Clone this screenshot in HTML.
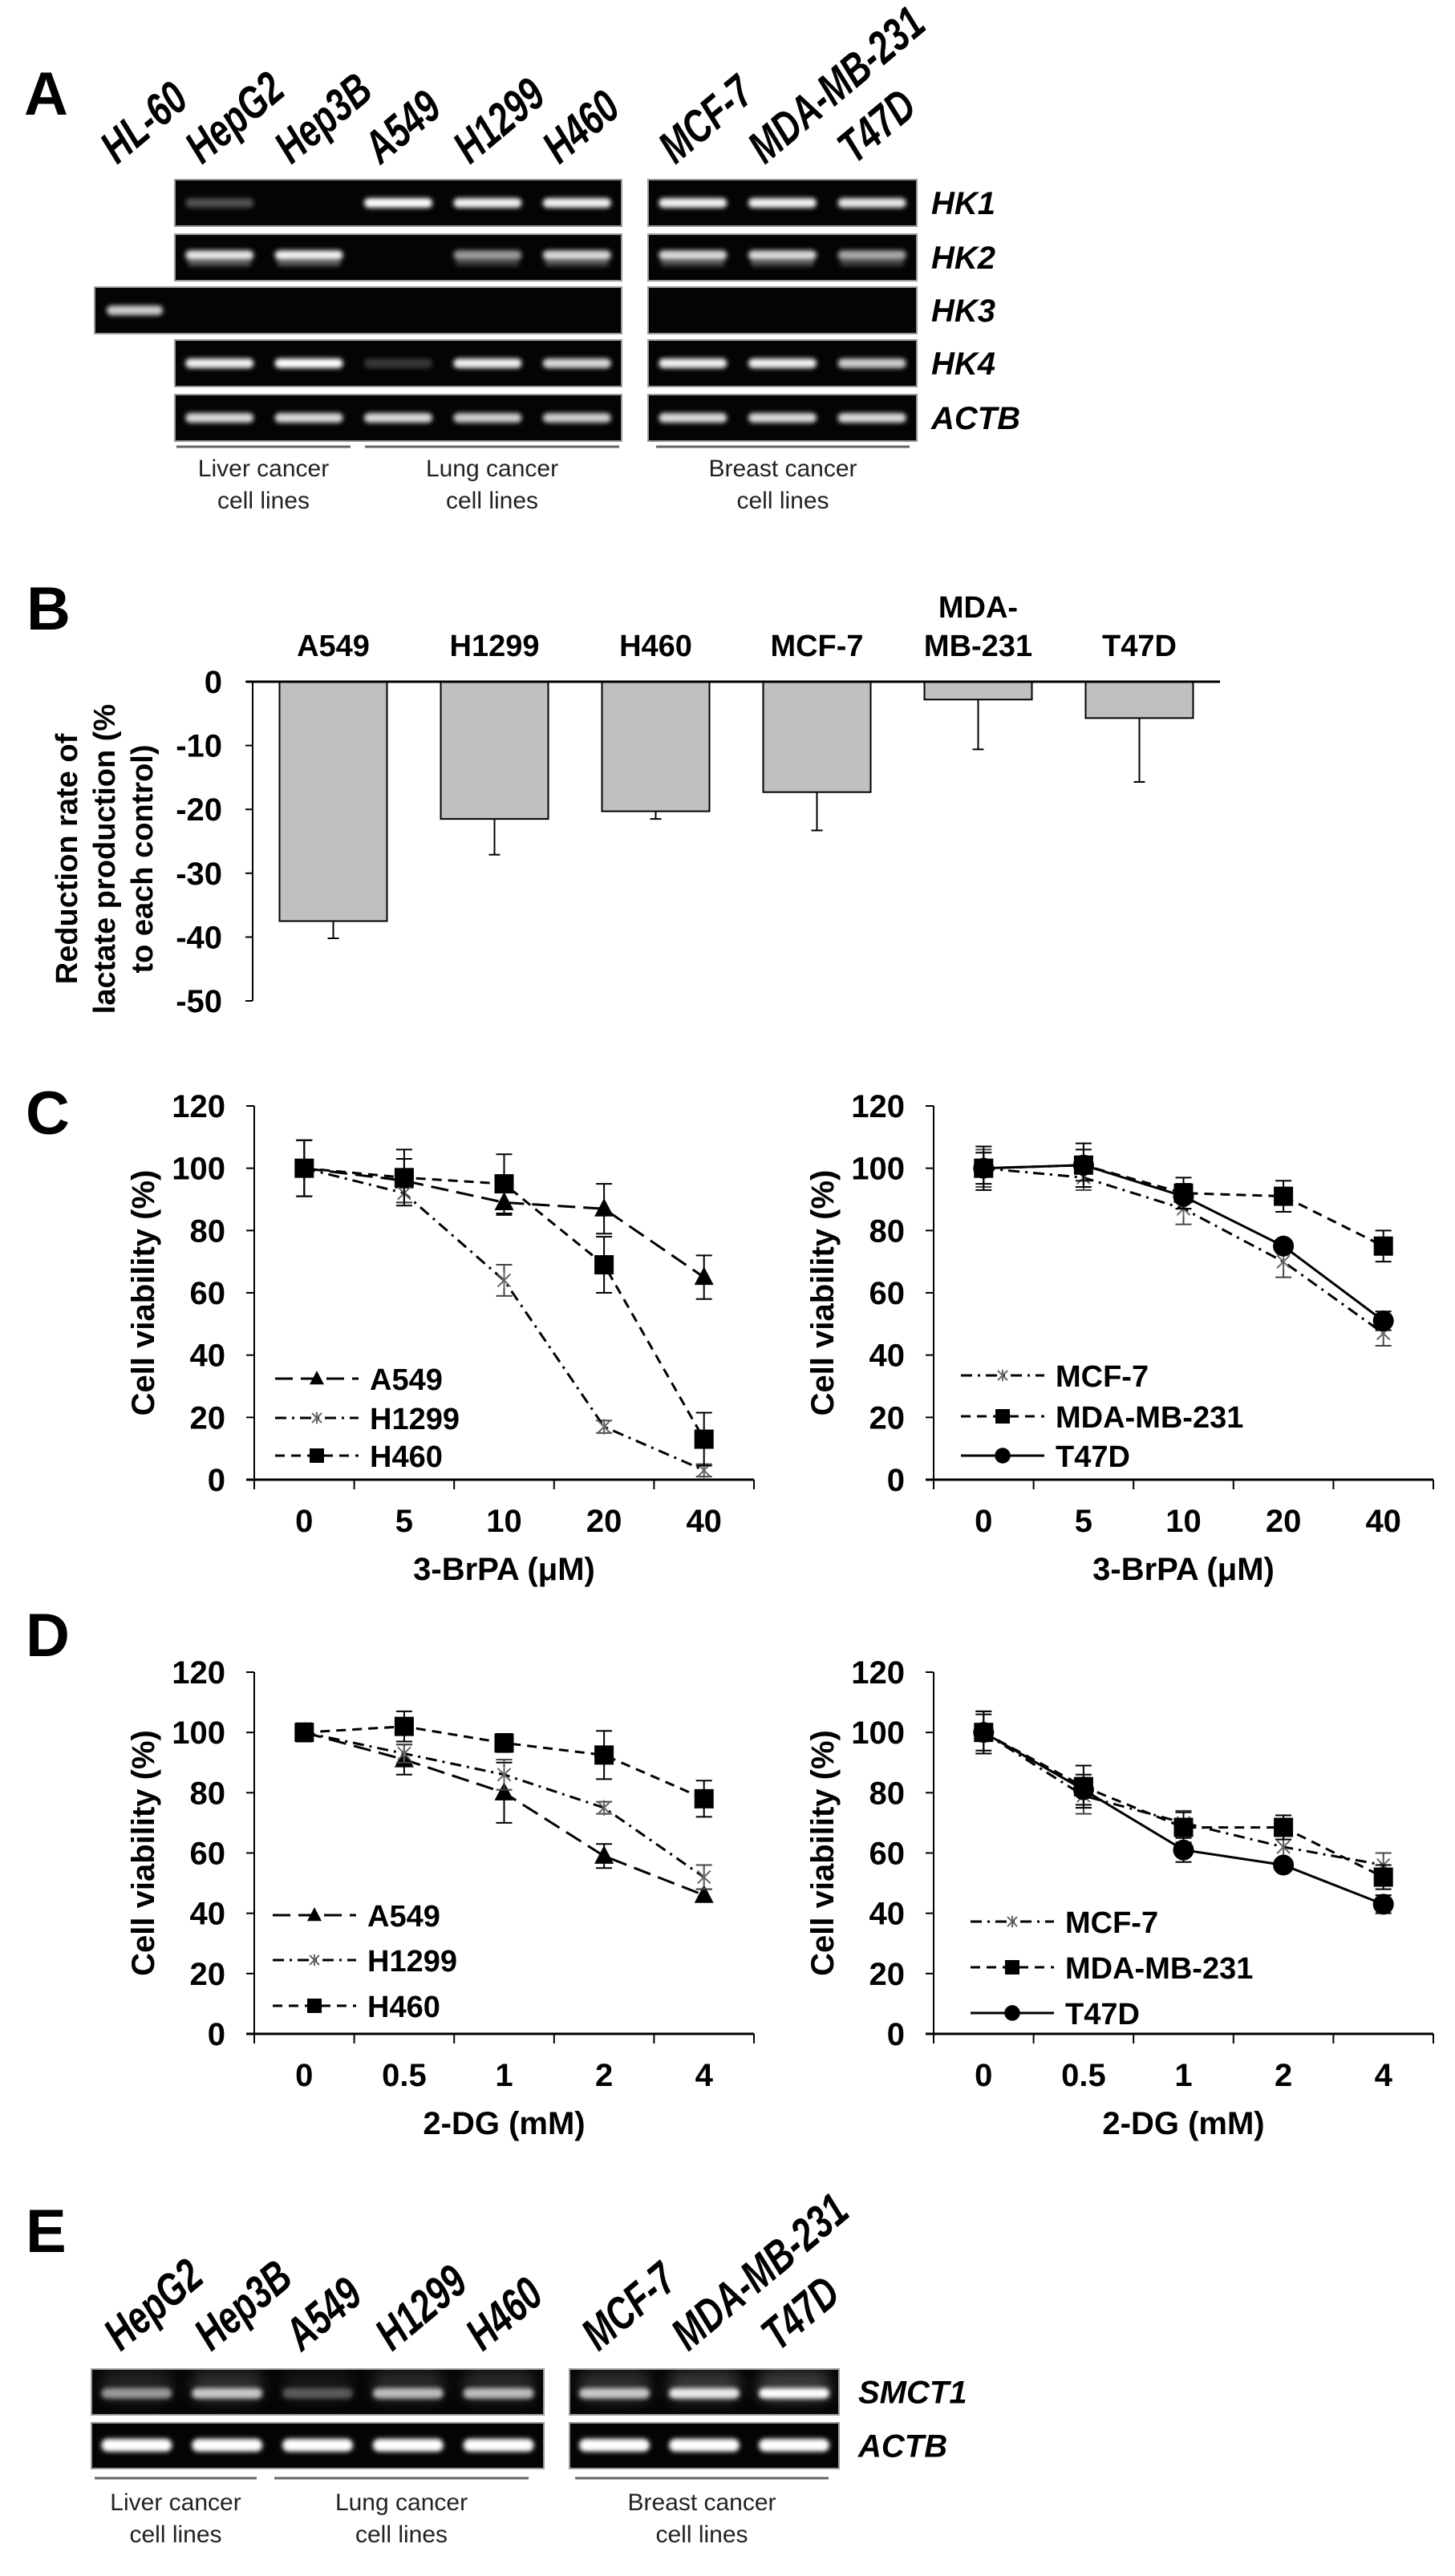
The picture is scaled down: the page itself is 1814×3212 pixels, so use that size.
<!DOCTYPE html>
<html><head><meta charset="utf-8"><title>Figure</title>
<style>
html,body{margin:0;padding:0;background:#fff;}
svg{display:block;font-family:"Liberation Sans",Arial,sans-serif;}
</style></head>
<body>
<svg id="fig" width="1814" height="3212" viewBox="0 0 1814 3212" xmlns="http://www.w3.org/2000/svg">
<defs>
<filter id="blur" x="-30%" y="-100%" width="160%" height="300%"><feGaussianBlur stdDeviation="3"/></filter>
<filter id="blur2" x="-30%" y="-200%" width="160%" height="500%"><feGaussianBlur stdDeviation="9"/></filter>
</defs>
</svg>
<script>
// ---------- data ----------
const gelALanes = ['HL-60','HepG2','Hep3B','A549','H1299','H460','MCF-7','MDA-MB-231','T47D'];
const gelARows = ['HK1','HK2','HK3','HK4','ACTB'];
const gelAHK1 = [0,0.3,0,1,0.95,0.95,0.95,0.95,0.9];
const gelAHK2 = [0,0.9,0.95,0,0.6,0.85,0.85,0.85,0.65];
const gelAHK3 = [0.8,0,0,0,0,0,0,0,0];
const gelAHK4 = [0,0.95,1,0.2,0.95,0.85,0.95,0.95,0.8];
const gelAACTB = [0,0.85,0.85,0.85,0.8,0.8,0.85,0.85,0.85];

const bLabels = ['A549','H1299','H460','MCF-7','MDA-MB-231','T47D'];
const bValues = [-37.5,-21.5,-20.3,-17.3,-2.8,-5.7];
const bErr = [2.7,5.6,1.2,6.0,7.8,10.0];
const bTicks = [0,-10,-20,-30,-40,-50];

const doseC = ['0','5','10','20','40'];
const doseD = ['0','0.5','1','2','4'];
const yTicks = [0,20,40,60,80,100,120];

const cLungNames = ['A549','H1299','H460'];
const cA549 = [100,96,89,87,65];
const cA549sd = [9,7,4,8,7];
const cH1299 = [100,92,64,17,3];
const cH1299sd = [9,3,5,2,2];
const cH460 = [100,97,95,69,13];
const cH460sd = [9,9,9.5,9,8.5];

const cBreastNames = ['MCF-7','MDA-MB-231','T47D'];
const cMCF7 = [100,97,87,70,47];
const cMCF7sd = [6,4,5,5,4];
const cMDA = [100,101,92,91,75];
const cMDAsd = [7,7,5,5,5];
const cT47D = [100,101,91,75,51];
const cT47Dsd = [5,5,4,2,3];

const dA549 = [100,91,80,59,46];
const dA549sd = [3,5,10,4,2];
const dH1299 = [100,93,86,75,52];
const dH1299sd = [3,3,5,2,4];
const dH460 = [100,102,96.5,92.5,78];
const dH460sd = [3,5,3,8,6];

const dMCF7 = [100,79,70,62,56];
const dMCF7sd = [7,6,4,5,4];
const dMDA = [100,82,68.5,68.5,52];
const dMDAsd = [7,7,5,4,4];
const dT47D = [100,81,61,56,43];
const dT47Dsd = [6,5,4,2,3];

const gelELanes = ['HepG2','Hep3B','A549','H1299','H460','MCF-7','MDA-MB-231','T47D'];
const gelERows = ['SMCT1','ACTB'];
const gelESMCT1 = [0.55,0.75,0.3,0.7,0.7,0.75,0.9,1];
const gelEACTB = [1,1,1,1,1,1,1,1];

// ---------- helpers ----------
const NS = 'http://www.w3.org/2000/svg';
const svg = document.getElementById('fig');
function mk(tag, attrs, parent, txt){
  const e = document.createElementNS(NS, tag);
  for (const k in attrs) e.setAttribute(k, attrs[k]);
  if (txt !== undefined) e.textContent = txt;
  (parent || svg).appendChild(e);
  return e;
}
function grp(name){
  const g = mk('g', {});
  
  
  return g;
}
function panelLetter(t, x, y){
  const e = mk('text', {x:x, y:y, 'font-size':76, 'font-weight':'bold', fill:'#000'}, svg, t);
  
  
}

// ---------- gel drawing ----------
function gelBox(g, x, y, w, h, name){
  const r = mk('rect', {x:x, y:y, width:w, height:h, fill:'#040404', stroke:'#9a9a9a', 'stroke-width':2}, g);
  
  
}
function band(g, cx, cy, w, h, inten, name, glow){
  if (inten <= 0) return;
  if (glow) {
    const gl = mk('rect', {x:cx-w/2, y:cy-h*2.2, width:w, height:h*3, rx:h, fill:'#fff', opacity:(inten*0.22).toFixed(2), filter:'url(#blur2)'}, g);
    
    
  }
  const b = mk('rect', {x:cx-w/2, y:cy-h/2, width:w, height:h, rx:h/2, fill:'#fff', opacity:inten.toFixed(2), filter:'url(#blur)'}, g);
  
  
}
function rotLabel(g, t, x, y, fs){
  const e = mk('text', {transform:'translate(' + x + ',' + y + ') rotate(-40) scale(0.98,1.3)', 'font-size':fs, 'font-weight':'bold', 'font-style':'italic', fill:'#000'}, g, t);
  
  
}
function groupLabel(g, l1, l2, x1, x2, ly, ty){
  const ln = mk('line', {x1:x1, x2:x2, y1:ly, y2:ly, stroke:'#666', 'stroke-width':3}, g);
  
  
  const t = mk('text', {x:(x1+x2)/2, y:ty, 'font-size':30, 'text-anchor':'middle', fill:'#222'}, g);
  
  
  mk('tspan', {x:(x1+x2)/2, dy:0}, t, l1);
  mk('tspan', {x:(x1+x2)/2, dy:40}, t, l2);
}

// ---------- Panel A ----------
panelLetter('A', 30, 143);
(function(){
  const g = grp('panel-a-gel');
  const rowY = [224,292,358,424,492], rowH = 58;
  const box1 = [218,775], box2 = [808,1143];
  const centers = [168];
  for (let i=0;i<5;i++) centers.push(box1[0] + (box1[1]-box1[0])/5*(i+0.5));
  for (let i=0;i<3;i++) centers.push(box2[0] + (box2[1]-box2[0])/3*(i+0.5));
  const data = [gelAHK1, gelAHK2, gelAHK3, gelAHK4, gelAACTB];
  const bandPos = [0.5,0.45,0.5,0.5,0.5];
  gelARows.forEach((row, r) => {
    const y = rowY[r];
    gelBox(g, row === 'HK3' ? 118 : box1[0], y, (row === 'HK3' ? box1[1]-118 : box1[1]-box1[0]), rowH, 'gel-' + row.toLowerCase() + '-left');
    gelBox(g, box2[0], y, box2[1]-box2[0], rowH, 'gel-' + row.toLowerCase() + '-right');
    data[r].forEach((v, i) => {
      if (i === 0 && row !== 'HK3') return;
      band(g, centers[i], y + rowH*bandPos[r], i === 0 ? 70 : 85, 12, v, 'band-' + row.toLowerCase() + '-' + gelALanes[i].toLowerCase());
      if (row === 'HK2' && v > 0) band(g, centers[i], y + rowH*0.62, 80, 8, v*0.35, 'band-hk2-lower');
    });
    const t = mk('text', {x:1161, y:y + rowH/2 + 14, 'font-size':40, 'font-weight':'bold', 'font-style':'italic', fill:'#000'}, g, row);
    
    
  });
  gelALanes.forEach((l, i) => rotLabel(g, l, centers[i]-22, 206, 44));
  groupLabel(g, 'Liver cancer', 'cell lines', 220, 437, 557, 594);
  groupLabel(g, 'Lung cancer', 'cell lines', 455, 772, 557, 594);
  groupLabel(g, 'Breast cancer', 'cell lines', 818, 1134, 557, 594);
})();

// ---------- Panel B ----------
panelLetter('B', 33, 785);
(function(){
  const g = grp('panel-b-bar-chart');
  const axX = 315, y0 = 850, ppu = 7.96, band = 201, bw = 134;
  const yS = v => y0 - v*ppu;
  const xC = i => axX + band*(i+0.5);
  bValues.forEach((v, i) => {
    const x = xC(i);
    const eb = mk('line', {x1:x, x2:x, y1:yS(v), y2:yS(v - bErr[i]), stroke:'#000', 'stroke-width':2}, g);
    
    
    const cap = mk('line', {x1:x-7, x2:x+7, y1:yS(v - bErr[i]), y2:yS(v - bErr[i]), stroke:'#000', 'stroke-width':2}, g);
    
    
    const r = mk('rect', {x:x-bw/2, y:y0, width:bw, height:yS(v)-y0, fill:'#c0c0c0', stroke:'#000', 'stroke-width':2}, g);
    
    
    const lab = mk('text', {x:x, y:818, 'font-size':38, 'font-weight':'bold', 'text-anchor':'middle', fill:'#000'}, g);
    
    
    if (bLabels[i] === 'MDA-MB-231') {
      mk('tspan', {x:x, dy:-48}, lab, 'MDA-');
      mk('tspan', {x:x, dy:48}, lab, 'MB-231');
    } else lab.textContent = bLabels[i];
  });
  const ya = mk('line', {x1:axX, x2:axX, y1:yS(0), y2:yS(-50), stroke:'#000', 'stroke-width':2}, g);
  
  
  const xa = mk('line', {x1:axX-8, x2:axX + band*bLabels.length, y1:y0, y2:y0, stroke:'#000', 'stroke-width':3}, g);
  
  
  bTicks.forEach(t => {
    const tk = mk('line', {x1:axX-9, x2:axX, y1:yS(t), y2:yS(t), stroke:'#000', 'stroke-width':2}, g);
    
    
    const tl = mk('text', {x:277, y:yS(t)+14, 'font-size':40, 'font-weight':'bold', 'text-anchor':'end', fill:'#000'}, g, String(t));
    
    
  });
  const tt = mk('text', {transform:'translate(0,1071) rotate(-90)', 'font-size':38, 'font-weight':'bold', 'text-anchor':'middle', fill:'#000'}, g);
  
  
  mk('tspan', {x:0, y:96}, tt, 'Reduction rate of');
  mk('tspan', {x:0, y:143}, tt, 'lactate production (%');
  mk('tspan', {x:0, y:190}, tt, 'to each control)');
})();

// ---------- line charts ----------
function lineChart(opt){
  const g = grp(opt.name);
  const axX = opt.axX, y0 = opt.y0, yTop = opt.yTop, band = 124.6, n = opt.cats.length;
  const yS = v => y0 - (v/120)*(y0-yTop);
  const xS = i => axX + band*(i+0.5);
  const ya = mk('line', {x1:axX, x2:axX, y1:yS(0), y2:yS(120), stroke:'#000', 'stroke-width':2}, g);
  
  
  const xa = mk('line', {x1:axX-10, x2:axX+band*n, y1:y0, y2:y0, stroke:'#000', 'stroke-width':3}, g);
  
  
  yTicks.forEach(t => {
    const tk = mk('line', {x1:axX-10, x2:axX, y1:yS(t), y2:yS(t), stroke:'#000', 'stroke-width':2}, g);
    
    
    const tl = mk('text', {x:axX-36, y:yS(t)+14, 'font-size':40, 'font-weight':'bold', 'text-anchor':'end', fill:'#000'}, g, String(t));
    
    
  });
  for (let i=0;i<=n;i++){
    const tk = mk('line', {x1:axX+band*i, x2:axX+band*i, y1:y0, y2:y0+12, stroke:'#000', 'stroke-width':2}, g);
    
    
  }
  opt.cats.forEach((c, i) => {
    const tl = mk('text', {x:xS(i), y:y0+65, 'font-size':40, 'font-weight':'bold', 'text-anchor':'middle', fill:'#000'}, g, c);
    
    
  });
  const xt = mk('text', {x:axX+band*n/2, y:y0+125, 'font-size':40, 'font-weight':'bold', 'text-anchor':'middle', fill:'#000'}, g, opt.xTitle);
  
  
  const yt = mk('text', {transform:'translate(' + (axX-139+14) + ',' + ((y0+yTop)/2) + ') rotate(-90)', 'font-size':40, 'font-weight':'bold', 'text-anchor':'middle', fill:'#000'}, g, 'Cell viability (%)');
  
  

  opt.series.forEach((s, k) => {
    s.vals.forEach((v, i) => {
      const x = xS(i);
      const e = mk('line', {x1:x, x2:x, y1:yS(v+s.sd[i]), y2:yS(v-s.sd[i]), stroke:s.marker==='star'?'#444':'#000', 'stroke-width':2}, g);
      
      
      [v+s.sd[i], v-s.sd[i]].forEach(yy => {
        const c = mk('line', {x1:x-10, x2:x+10, y1:yS(yy), y2:yS(yy), stroke:s.marker==='star'?'#444':'#000', 'stroke-width':2}, g);
        
        
      });
    });
    const pts = s.vals.map((v, i) => xS(i).toFixed(1) + ',' + yS(v).toFixed(1)).join(' ');
    const pl = mk('polyline', {points:pts, fill:'none', stroke:'#000', 'stroke-width':3, 'stroke-dasharray':s.dash}, g);
    
    
    s.vals.forEach((v, i) => marker(g, s.marker, xS(i), yS(v), 'point-' + s.name.toLowerCase()));
    const ly = opt.legY[k];
    const ll = mk('line', {x1:opt.legX, x2:opt.legX+104, y1:ly, y2:ly, stroke:'#000', 'stroke-width':3, 'stroke-dasharray':s.dash}, g);
    
    
    marker(g, s.marker, opt.legX+52, ly, 'legend-marker', 0.75);
    const lt = mk('text', {x:opt.legX+118, y:ly+14, 'font-size':38, 'font-weight':'bold', fill:'#000'}, g, s.name);
    
    
  });
}
function marker(g, type, x, y, name, sc){
  sc = sc || 1;
  let e;
  if (type === 'tri') {
    const s = 12*sc;
    e = mk('polygon', {points:(x)+','+(y-s*1.1)+' '+(x+s)+','+(y+s*0.8)+' '+(x-s)+','+(y+s*0.8), fill:'#000'}, g);
  } else if (type === 'sq') {
    const s = 12*sc;
    e = mk('rect', {x:x-s, y:y-s, width:2*s, height:2*s, fill:'#000'}, g);
  } else if (type === 'circ') {
    e = mk('circle', {cx:x, cy:y, r:13*sc, fill:'#000'}, g);
  } else {
    const s = 8*sc;
    e = mk('path', {d:'M'+(x-s)+' '+(y-s)+'L'+(x+s)+' '+(y+s)+'M'+(x+s)+' '+(y-s)+'L'+(x-s)+' '+(y+s)+'M'+x+' '+(y-s*1.2)+'L'+x+' '+(y+s*1.2), stroke:'#666', 'stroke-width':2, fill:'none'}, g);
  }
  
  
}
const DASH_LONG = '22 10', DASH_DOT = '14 7 3 7', DASH_SHORT = '12 8';

panelLetter('C', 32, 1414);
lineChart({name:'chart-c-lung', axX:317, y0:1845, yTop:1379, cats:doseC, xTitle:'3-BrPA (\u03bcM)', legX:343, legY:[1719,1768,1815],
  series:[
    {name:cLungNames[0], vals:cA549, sd:cA549sd, dash:DASH_LONG, marker:'tri'},
    {name:cLungNames[1], vals:cH1299, sd:cH1299sd, dash:DASH_DOT, marker:'star'},
    {name:cLungNames[2], vals:cH460, sd:cH460sd, dash:DASH_SHORT, marker:'sq'}]});
lineChart({name:'chart-c-breast', axX:1164, y0:1845, yTop:1379, cats:doseC, xTitle:'3-BrPA (\u03bcM)', legX:1198, legY:[1715,1766,1815],
  series:[
    {name:cBreastNames[0], vals:cMCF7, sd:cMCF7sd, dash:DASH_DOT, marker:'star'},
    {name:cBreastNames[1], vals:cMDA, sd:cMDAsd, dash:DASH_SHORT, marker:'sq'},
    {name:cBreastNames[2], vals:cT47D, sd:cT47Dsd, dash:'none', marker:'circ'}]});

panelLetter('D', 32, 2065);
lineChart({name:'chart-d-lung', axX:317, y0:2536, yTop:2085, cats:doseD, xTitle:'2-DG (mM)', legX:340, legY:[2388,2444,2501],
  series:[
    {name:cLungNames[0], vals:dA549, sd:dA549sd, dash:DASH_LONG, marker:'tri'},
    {name:cLungNames[1], vals:dH1299, sd:dH1299sd, dash:DASH_DOT, marker:'star'},
    {name:cLungNames[2], vals:dH460, sd:dH460sd, dash:DASH_SHORT, marker:'sq'}]});
lineChart({name:'chart-d-breast', axX:1164, y0:2536, yTop:2085, cats:doseD, xTitle:'2-DG (mM)', legX:1210, legY:[2396,2453,2510],
  series:[
    {name:cBreastNames[0], vals:dMCF7, sd:dMCF7sd, dash:DASH_DOT, marker:'star'},
    {name:cBreastNames[1], vals:dMDA, sd:dMDAsd, dash:DASH_SHORT, marker:'sq'},
    {name:cBreastNames[2], vals:dT47D, sd:dT47Dsd, dash:'none', marker:'circ'}]});

// ---------- Panel E ----------
panelLetter('E', 32, 2808);
(function(){
  const g = grp('panel-e-gel');
  const rowY = [2954,3021], rowH = 57;
  const box1 = [114,678], box2 = [710,1046];
  const centers = [];
  for (let i=0;i<5;i++) centers.push(box1[0] + (box1[1]-box1[0])/5*(i+0.5));
  for (let i=0;i<3;i++) centers.push(box2[0] + (box2[1]-box2[0])/3*(i+0.5));
  const data = [gelESMCT1, gelEACTB];
  gelERows.forEach((row, r) => {
    const y = rowY[r];
    gelBox(g, box1[0], y, box1[1]-box1[0], rowH, 'gel-' + row.toLowerCase() + '-left');
    gelBox(g, box2[0], y, box2[1]-box2[0], rowH, 'gel-' + row.toLowerCase() + '-right');
    data[r].forEach((v, i) => {
      band(g, centers[i], y + rowH*(r===0?0.53:0.49), 88, r===0?13:16, v, 'band-' + row.toLowerCase() + '-' + gelELanes[i].toLowerCase(), r===0);
    });
    const t = mk('text', {x:1070, y:y + rowH/2 + 14, 'font-size':40, 'font-weight':'bold', 'font-style':'italic', fill:'#000'}, g, row);
    
    
  });
  gelELanes.forEach((l, i) => rotLabel(g, l, centers[i]-20, 2933, 44));
  groupLabel(g, 'Liver cancer', 'cell lines', 118, 320, 3090, 3130);
  groupLabel(g, 'Lung cancer', 'cell lines', 342, 659, 3090, 3130);
  groupLabel(g, 'Breast cancer', 'cell lines', 717, 1033, 3090, 3130);
})();
</script>
</body></html>
